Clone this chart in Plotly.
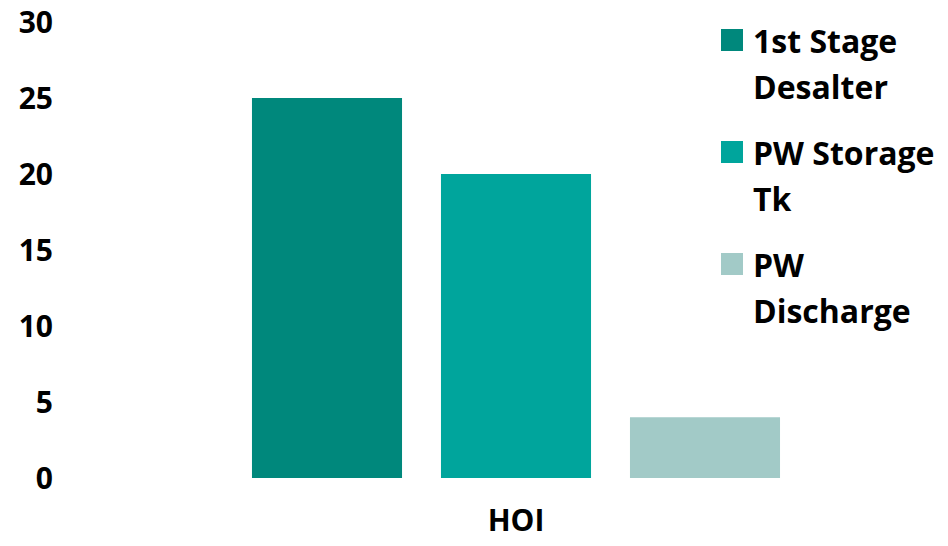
import plotly.graph_objects as go

# Data
categories = ["HOI"]
series_names = ["1st Stage Desalter", "PW Storage Tk", "PW Discharge"]
legend_lines = [["1st Stage", "Desalter"], ["PW Storage", "Tk"], ["PW", "Discharge"]]
series_values = [[25], [20], [4]]
series_colors = ["#00887c", "#00a59c", "#a2cac7"]
y_ticks = [0, 5, 10, 15, 20, 25, 30]

FONT = "Open Sans"
W, H = 948, 546
ML, MR, MT, MB = 62, 0, 22, 68

fig = go.Figure()
for name, vals, col in zip(series_names, series_values, series_colors):
    fig.add_trace(go.Bar(x=categories, y=vals, name=name, marker_color=col,
                         marker_line_width=0, showlegend=False))

# x range so the bar group is centred at ~516 px and spans ~567 px
plot_w = W - ML - MR
plot_h = H - MT - MB
span = plot_w / 567.0
x0 = -(516 - ML) / plot_w * span
x_range = [x0, x0 + span]

# Custom legend: large squares with two-line bold labels
shapes, annotations = [], []
sq_tops = [29, 141, 253]
line_gap = 46
for i, (lines, col) in enumerate(zip(legend_lines, series_colors)):
    top = sq_tops[i]
    shapes.append(dict(type="rect", xref="paper", yref="paper",
                       x0=(721 - ML) / plot_w, x1=(743 - ML) / plot_w,
                       y0=1 - (top + 22 - MT) / plot_h,
                       y1=1 - (top - MT) / plot_h,
                       fillcolor=col, line_width=0))
    for j, txt in enumerate(lines):
        yc = top + 11 + j * line_gap
        annotations.append(dict(text=f"<b>{txt}</b>", xref="paper", yref="paper",
                                x=(751 - ML) / plot_w, y=1 - (yc - MT) / plot_h,
                                xanchor="left", yanchor="middle", showarrow=False,
                                font=dict(family=FONT, size=32, color="#000000")))

fig.update_layout(
    width=W, height=H,
    margin=dict(l=ML, r=MR, t=MT, b=MB, pad=0),
    paper_bgcolor="white", plot_bgcolor="white",
    barmode="group", bargap=0.0, bargroupgap=0.206,
    font=dict(family=FONT, size=30, color="#000000", weight="bold"),
    xaxis=dict(type="category", range=x_range, showgrid=False, zeroline=False,
               showline=False, ticks="", ticklabelstandoff=22,
               tickfont=dict(family=FONT, size=30, weight="bold")),
    yaxis=dict(range=[0, 30], tickvals=y_ticks, showgrid=False, zeroline=False,
               showline=False, ticks="", ticklabelstandoff=8,
               tickfont=dict(family=FONT, size=30, weight="bold")),
    shapes=shapes, annotations=annotations,
)

fig.write_html("out.html")
